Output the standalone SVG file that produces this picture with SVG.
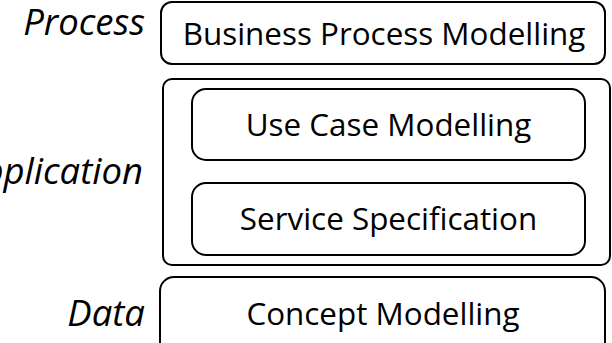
<svg xmlns="http://www.w3.org/2000/svg" width="612" height="343" viewBox="0 0 612 343">
<style>
.box{fill:#fff;stroke:#000;stroke-width:2}
.t{font-family:"Open Sans","Noto Sans","Liberation Sans",sans-serif;font-size:31.4px;fill:#000;text-anchor:middle}
.lbl{font-family:"Open Sans","Noto Sans","Liberation Sans",sans-serif;font-size:36.5px;font-style:italic;fill:#000;text-anchor:end}
</style>
<rect width="612" height="343" fill="#fff"/>
<g id="label-process"><text class="lbl" x="145" y="35">Process</text></g>
<g id="label-application"><text class="lbl" x="143" y="184">Application</text></g>
<g id="label-data"><text class="lbl" x="145" y="326">Data</text></g>
<g id="bpm">
<rect class="box" x="161" y="2" width="444" height="62" rx="11"/>
<text class="t" x="384" y="45">Business Process Modelling</text>
</g>
<g id="application">
<rect class="box" x="163" y="79" width="447" height="186" rx="9"/>
</g>
<g id="ucm">
<rect class="box" x="192" y="89" width="393" height="71" rx="14"/>
<text class="t" x="388.5" y="136">Use Case Modelling</text>
</g>
<g id="ss">
<rect class="box" x="192" y="183" width="393" height="72" rx="14"/>
<text class="t" x="388.5" y="230">Service Specification</text>
</g>
<g id="cm">
<rect class="box" x="160" y="277" width="445" height="80" rx="14"/>
<text class="t" x="383" y="325">Concept Modelling</text>
</g>
<g id="connectors"/>
</svg>
